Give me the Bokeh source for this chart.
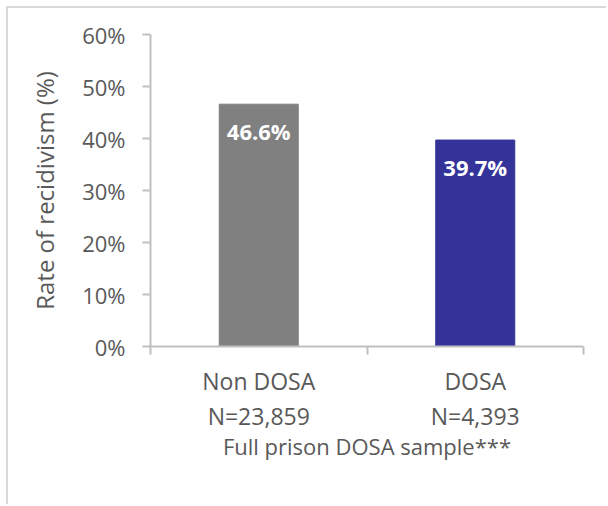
from bokeh.plotting import figure
from bokeh.models import ColumnDataSource, FixedTicker, NumeralTickFormatter, Range1d
from bokeh.core.properties import value
from bokeh.embed import file_html
from bokeh.resources import INLINE

categories = ["Non DOSA\nN=23,859", "DOSA\nN=4,393"]
rates = [0.466, 0.397]
bar_labels = ["46.6%", "39.7%"]
bar_colors = ["#808080", "#333399"]
y_ticks = [0, 0.1, 0.2, 0.3, 0.4, 0.5, 0.6]

FONT = "Open Sans"
TXT = "#595959"
AX = "#bfbfbf"

xpos = [i + 0.5 for i in range(len(categories))]
src = ColumnDataSource(dict(x=xpos, top=rates, lab=bar_labels, color=bar_colors))

p = figure(width=600, height=498, output_backend="svg", toolbar_location=None,
           x_range=Range1d(0, len(categories)), y_range=Range1d(0, 0.6),
           min_border_left=142, min_border_right=25, min_border_top=26, min_border_bottom=160)
p.styles = {"margin-left": "6px", "margin-top": "6px",
            "border-top": "2px solid #d9d9d9", "border-left": "2px solid #d9d9d9"}

p.vbar(x="x", top="top", width=0.365, bottom=0, color="color", source=src)
p.text(x="x", y="top", text="lab", source=src, y_offset=27,
       text_align="center", text_baseline="middle", text_color="white",
       text_font=value(FONT), text_font_size="22px", text_font_style="bold")

p.grid.visible = False
p.outline_line_color = None

# x axis
xa = p.xaxis[0]
xa.ticker = FixedTicker(ticks=xpos, minor_ticks=[0, 1, 2])
xa.major_label_overrides = {xpos[i]: categories[i] for i in range(len(categories))}
xa.major_tick_out = 0
xa.major_tick_in = 0
xa.minor_tick_out = 8
xa.minor_tick_in = 0
xa.minor_tick_line_color = AX
xa.minor_tick_line_width = 2
xa.axis_line_color = AX
xa.axis_line_width = 2
xa.major_label_text_font = FONT
xa.major_label_text_font_size = "23px"
xa.major_label_text_color = TXT
xa.major_label_text_line_height = 1.1
xa.major_label_standoff = 10
xa.axis_label = "Full prison DOSA sample***"
xa.axis_label_text_font = FONT
xa.axis_label_text_font_size = "22px"
xa.axis_label_text_font_style = "normal"
xa.axis_label_text_color = TXT
xa.axis_label_standoff = -4

# y axis
ya = p.yaxis[0]
ya.ticker = FixedTicker(ticks=y_ticks)
ya.formatter = NumeralTickFormatter(format="0%")
ya.major_tick_out = 8
ya.major_tick_in = 0
ya.minor_tick_out = 0
ya.minor_tick_in = 0
ya.major_tick_line_color = AX
ya.major_tick_line_width = 2
ya.axis_line_color = AX
ya.axis_line_width = 2
ya.major_label_text_font = FONT
ya.major_label_text_font_size = "22px"
ya.major_label_text_color = TXT
ya.major_label_standoff = 17
ya.axis_label = "Rate of recidivism (%)"
ya.axis_label_text_font = FONT
ya.axis_label_text_font_size = "24px"
ya.axis_label_text_font_style = "normal"
ya.axis_label_text_color = TXT
ya.axis_label_standoff = 18

open("out.html", "w").write(file_html(p, INLINE))
